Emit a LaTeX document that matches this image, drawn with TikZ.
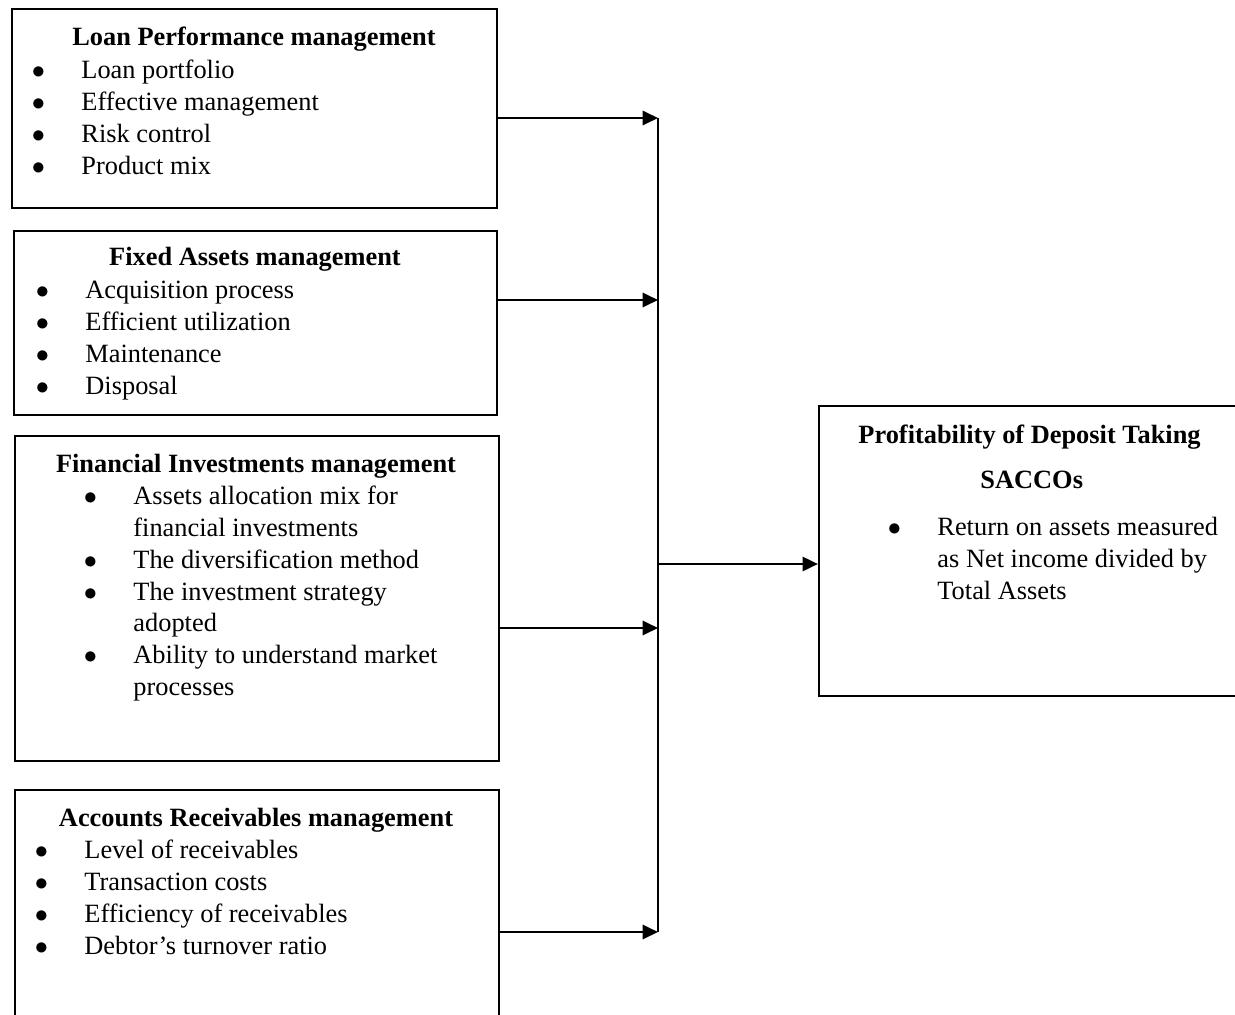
\documentclass[tikz,border=0pt]{standalone}
\usepackage{fontspec}
\setmainfont{Liberation Serif}
\usetikzlibrary{arrows.meta,fit}

\newcommand{\itm}{\strut\llap{$\bullet$\hspace{16.5pt}}}

\begin{document}
\begin{tikzpicture}[x=0.455pt, y=-0.455pt,
  box/.style={draw, line width=1pt, inner sep=0pt},
  ttl/.style={font=\fontsize{12}{14.5}\selectfont\bfseries, anchor=base, inner sep=0pt},
  lst/.style={font=\fontsize{12}{14.5}\selectfont, align=left, anchor=north west,
              yshift=10.15pt, inner sep=0pt},
  arr/.style={line width=1pt, -{Triangle[length=7pt, width=6.5pt]}},
]
  \clip (0,0) rectangle (1235,1014);
  % the four boxes on the left
  \node[box, fit={(12,9) (497,208)}]    (lp) {};
  \node[box, fit={(14,231) (497,415)}]  (fa) {};
  \node[box, fit={(15,436) (499,761)}]  (fi) {};
  \node[box, fit={(15,790) (499,1040)}] (ar) {};
  % the box on the right
  \node[box, fit={(819,406) (1250,696)}] (prof) {};

  \node[ttl] (lpt) at (254,45) {Loan Performance management};
  \node[lst] (lpl) at (81,78) {\itm Loan portfolio\\\itm Effective management\\\itm Risk control\\\itm Product mix};

  \node[ttl] (fat) at (255,265) {Fixed Assets management};
  \node[lst] (fal) at (85,298) {\itm Acquisition process\\\itm Efficient utilization\\\itm Maintenance\\\itm Disposal};

  \node[ttl] (fit) at (256,472) {Financial Investments management};
  \node[lst] (fil) at (133,504) {\itm Assets allocation mix for\\financial investments\\\itm The diversification method\\\itm The investment strategy\\adopted\\\itm Ability to understand market\\processes};

  \node[ttl] (art) at (256,826) {Accounts Receivables management};
  \node[lst] (arl) at (84,858) {\itm Level of receivables\\\itm Transaction costs\\\itm Efficiency of receivables\\\itm Debtor’s turnover ratio};

  \node[ttl, anchor=base west] (prt) at (858,443) {Profitability of Deposit Taking};
  \node[ttl, anchor=base west] (prs) at (980,488) {SACCOs};
  \node[lst] (prl) at (937,535) {\itm Return on assets measured\\as Net income divided by\\Total Assets};

  % connectors
  \coordinate (b1) at (658,118);
  \coordinate (b2) at (658,300);
  \coordinate (b3) at (658,628);
  \coordinate (b4) at (658,932);
  \coordinate (bo) at (658,564);
  \draw[line width=1pt] (b1) -- (b4);
  \draw[arr] (lp.east |- b1) -- (b1);
  \draw[arr] (fa.east |- b2) -- (b2);
  \draw[arr] (fi.east |- b3) -- (b3);
  \draw[arr] (ar.east |- b4) -- (b4);
  \draw[arr] (bo) -- (prof.west |- bo);
\end{tikzpicture}
\end{document}
